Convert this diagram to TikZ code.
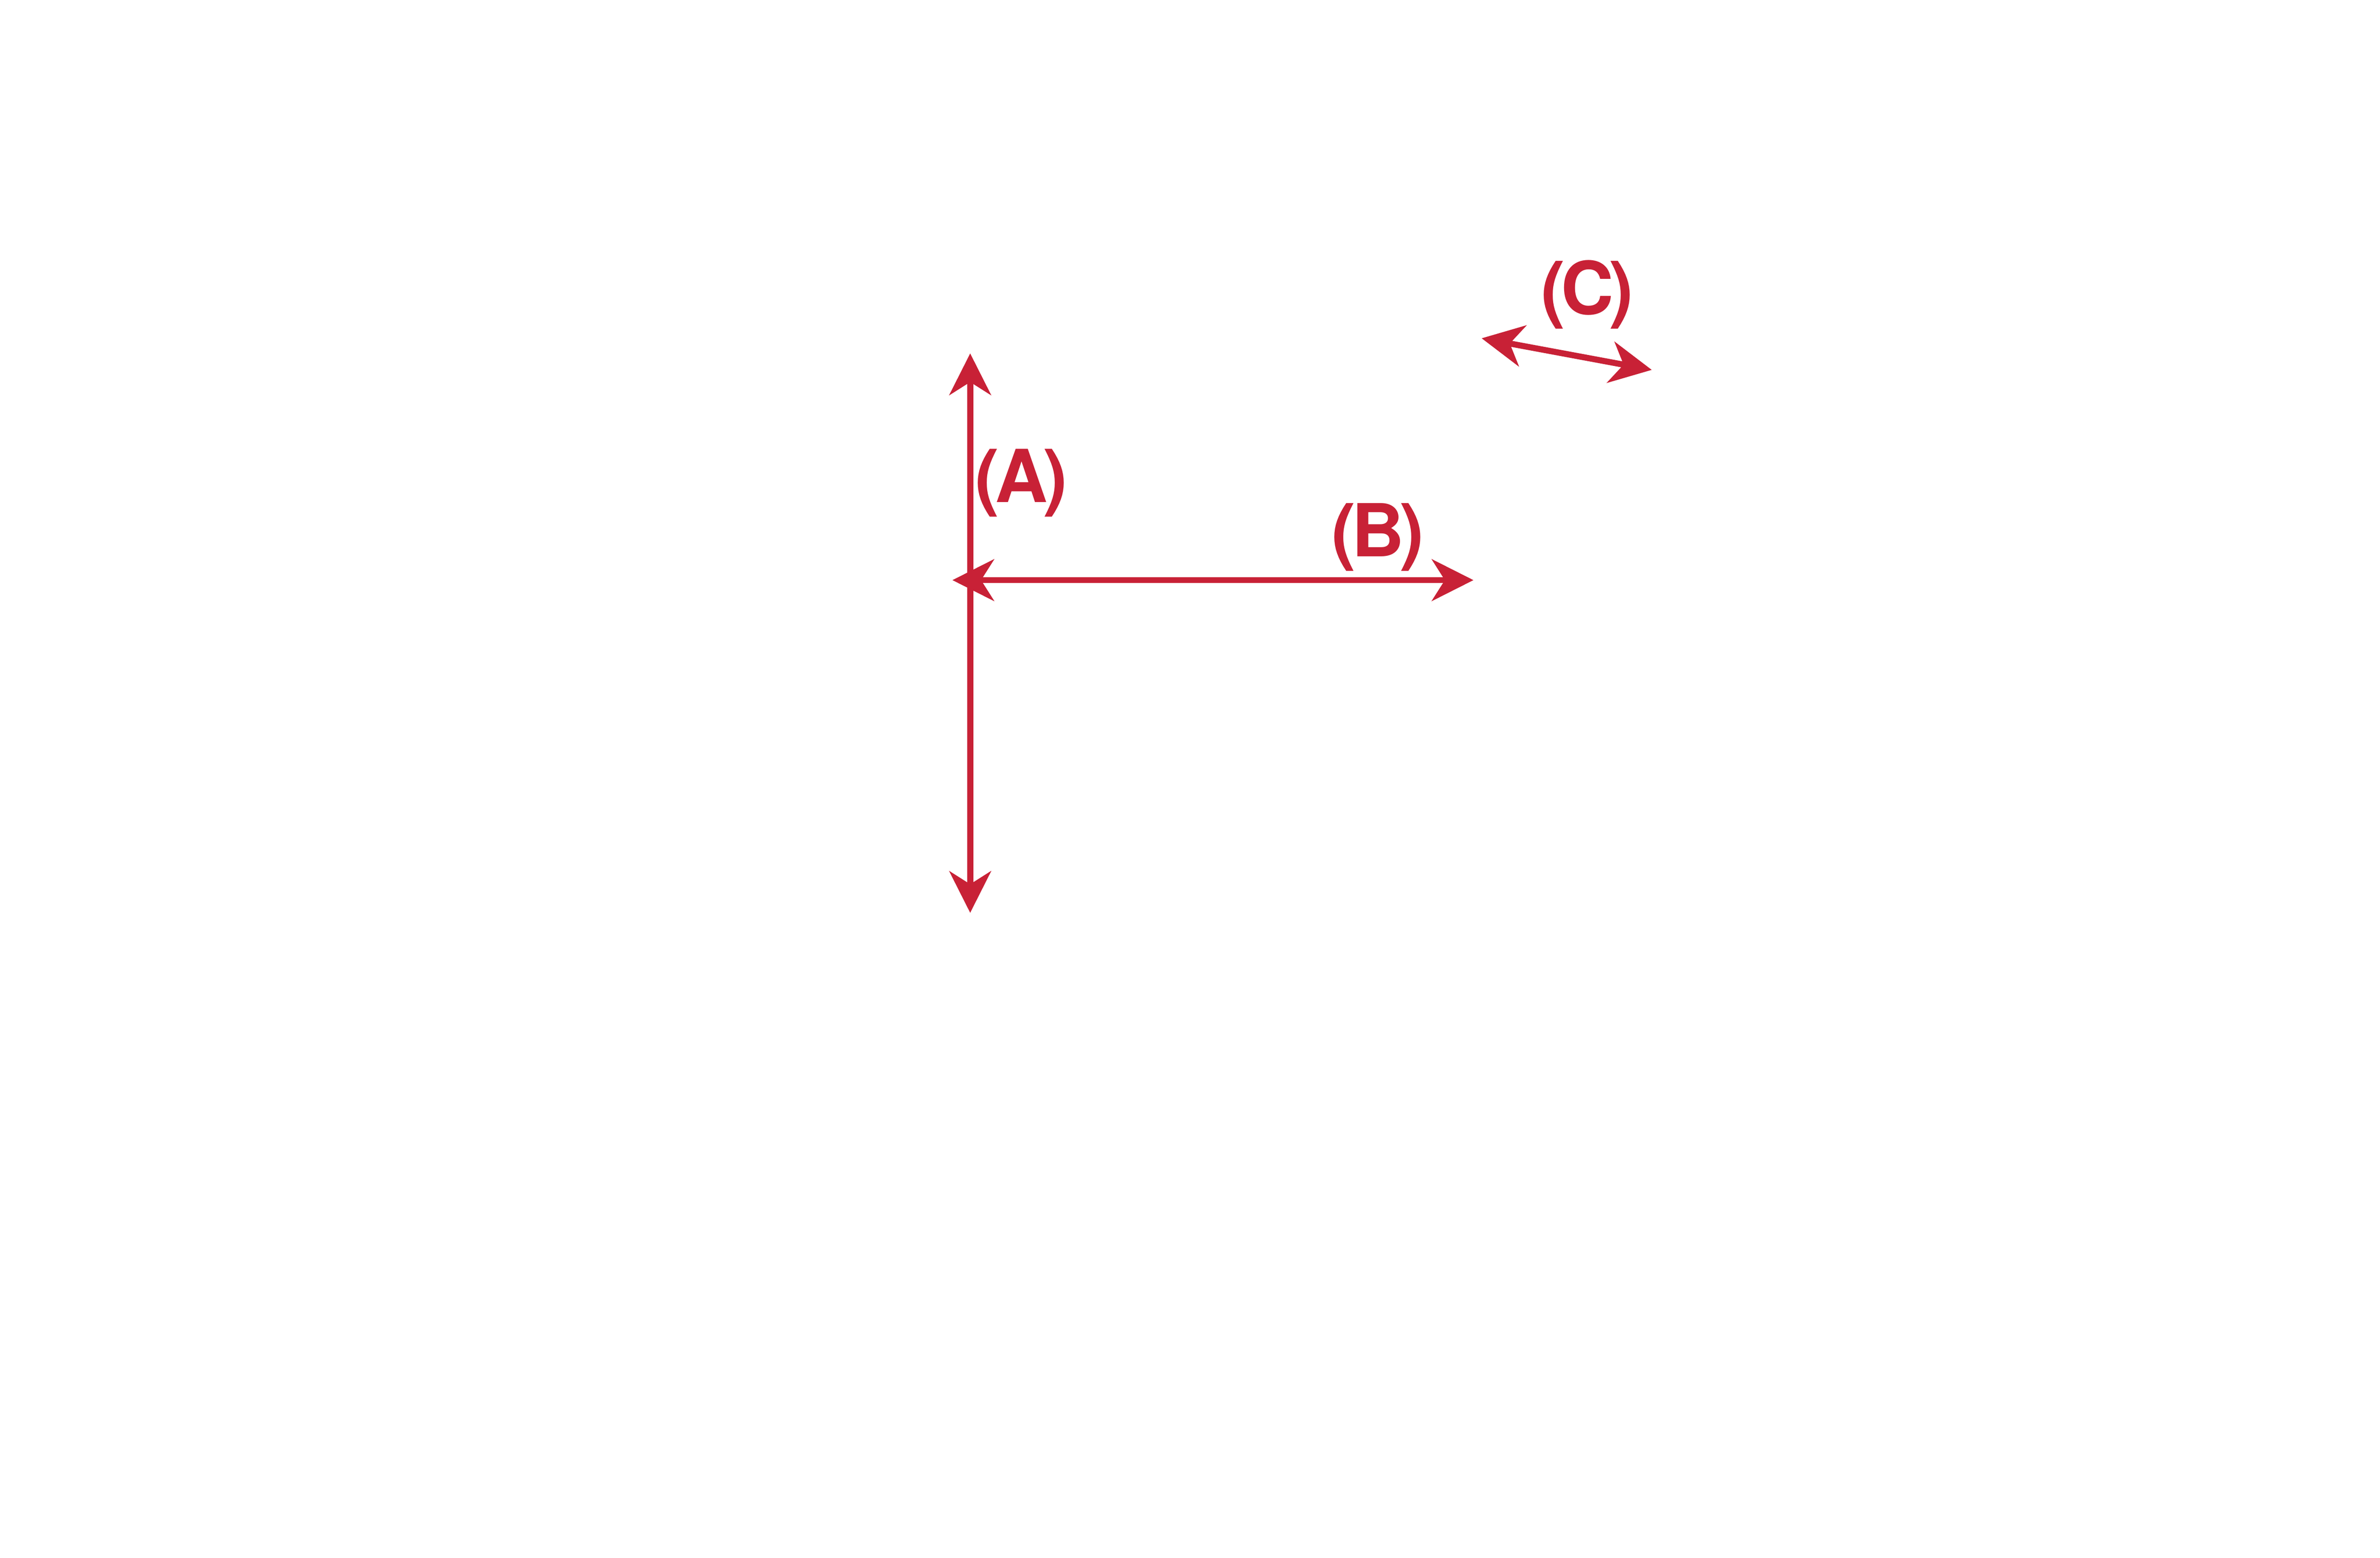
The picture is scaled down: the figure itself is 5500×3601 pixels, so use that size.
\documentclass[tikz,border=0pt]{standalone}
\usepackage{fontspec}
\setmainfont{TeX Gyre Heros}[LetterSpace=-6]
\usetikzlibrary{arrows.meta}
\definecolor{crim}{RGB}{200,33,54}
\tikzset{
  dimline/.style={draw=crim, line width=0.14cm, {Stealth[length=0.96cm,width=0.96cm,inset=0.30cm]}-{Stealth[length=0.96cm,width=0.96cm,inset=0.30cm]}},
  lbl/.style={text=crim, font=\fontsize{48}{58}\selectfont\bfseries, inner sep=0pt, anchor=base}
}
\begin{document}
\begin{tikzpicture}[x=0.01cm,y=-0.01cm]
\useasboundingbox[fill=white] (0,0) rectangle (5500,3601);
\coordinate (atop) at (2242,817);
\coordinate (abot) at (2242,2110);
\coordinate (bl) at (2201,1341);
\coordinate (br) at (3405,1341);
\coordinate (cl) at (3424,782);
\coordinate (cr) at (3817,855);
\draw[dimline] (atop) -- (abot);
\draw[dimline] (bl) -- (br);
\draw[dimline] (cl) -- (cr);
\node[lbl] (la) at (2360,1161) {(A)};
\node[lbl] (lb) at (3184,1287) {(B)};
\node[lbl] (lc) at (3668,727) {(C)};
\end{tikzpicture}
\end{document}
